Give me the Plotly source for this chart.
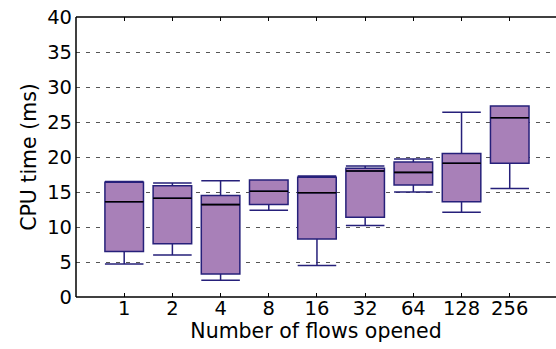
import plotly.graph_objects as go

categories = ["1", "2", "4", "8", "16", "32", "64", "128", "256"]
lower_whisker = [4.7, 6.0, 2.4, 12.4, 4.5, 10.2, 15.0, 12.1, 15.5]
q1 = [6.5, 7.6, 3.3, 13.2, 8.3, 11.4, 16.0, 13.6, 19.1]
median = [13.6, 14.1, 13.2, 15.1, 14.9, 18.0, 17.8, 19.1, 25.6]
q3 = [16.4, 15.9, 14.5, 16.7, 17.1, 18.4, 19.3, 20.5, 27.3]
upper_whisker = [16.5, 16.3, 16.6, 16.7, 17.3, 18.7, 19.7, 26.4, 27.3]

xs = list(range(len(categories)))
FILL = "#A880B8"
EDGE = "#26207A"
FONT = "DejaVu Sans"

fig = go.Figure()
fig.add_trace(go.Box(
    x=xs, q1=q1, median=median, q3=q3,
    lowerfence=lower_whisker, upperfence=upper_whisker,
    width=0.8, whiskerwidth=1.0,
    fillcolor=FILL, line=dict(color=EDGE, width=1.5),
    boxpoints=False, showlegend=False, hoverinfo="skip",
))

mx, my = [], []
for i, m in zip(xs, median):
    mx += [i - 0.4, i + 0.4, None]
    my += [m, m, None]
fig.add_trace(go.Scatter(x=mx, y=my, mode="lines",
                         line=dict(color="black", width=1.6),
                         showlegend=False, hoverinfo="skip"))

frame = dict(color="black", width=1.5)
fig.add_shape(type="line", xref="paper", yref="paper", x0=0, x1=1, y0=0, y1=0, line=frame, layer="above")
fig.add_shape(type="line", xref="paper", yref="paper", x0=0, x1=1, y0=1, y1=1, line=frame, layer="above")
fig.add_shape(type="line", xref="paper", yref="paper", x0=0, x1=0, y0=0, y1=1, line=frame, layer="above")

fig.update_layout(
    width=556, height=349,
    margin=dict(l=76, r=0, t=17, b=52),
    paper_bgcolor="white", plot_bgcolor="white",
    font=dict(family=FONT, size=19, color="black"),
    xaxis=dict(
        range=[-1, 8.96], tickvals=xs, ticktext=categories,
        showline=False, mirror="allticks",
        ticks="inside", ticklen=4, tickcolor="black", tickwidth=1,
        showgrid=False, zeroline=False, ticklabelstandoff=-3,
        title=dict(text="Number of flows opened", font=dict(size=20.5), standoff=3),
        tickfont=dict(size=19.5),
    ),
    yaxis=dict(
        range=[0, 40], dtick=5, tick0=0,
        showline=False, mirror=False,
        ticks="", showgrid=True, gridcolor="#555555", gridwidth=1,
        griddash="4px,6px", zeroline=False, ticklabelstandoff=3,
        title=dict(text="CPU time (ms)", font=dict(size=20.5), standoff=4),
        tickfont=dict(size=19.5),
    ),
)

fig.write_html("out.html")
